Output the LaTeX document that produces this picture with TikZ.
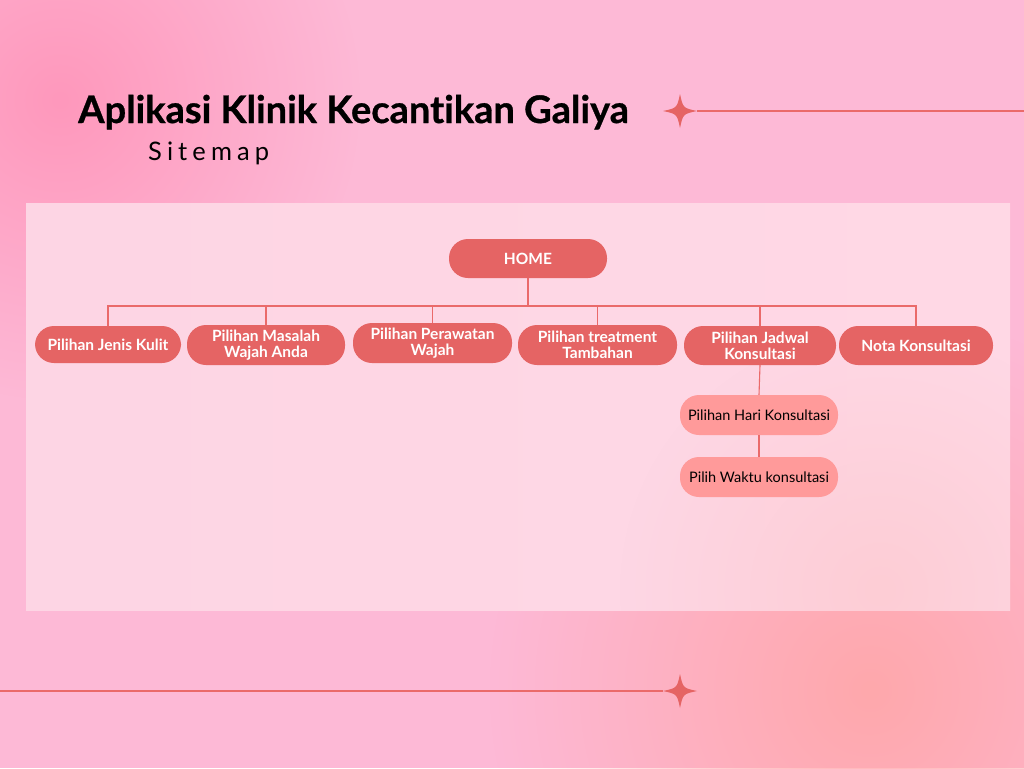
\documentclass[tikz,border=0pt]{standalone}
\usepackage{fontspec}
\setmainfont{Lato}[Ligatures=NoCommon]
\newfontfamily\subfont[LetterSpace=20]{Lato}
\newfontfamily\titlefont[Ligatures=NoCommon, FakeBold=0.8]{Lato Bold}
\usetikzlibrary{calc,fadings}
\tikzfading[name=softglow, inner color=transparent!0, outer color=transparent!100]
\definecolor{bgpink}{HTML}{FDB9D6}
\definecolor{bgdeep}{HTML}{FF98BC}
\definecolor{bgsalmon}{HTML}{FFA8AC}
\definecolor{panel}{HTML}{FDD5E4}
\definecolor{panelb}{HTML}{FFD8E5}
\definecolor{panelr}{HTML}{FDCDD5}
\definecolor{coral}{HTML}{E56464}
\definecolor{light}{HTML}{FF9A9A}
\definecolor{linec}{HTML}{EA6A6A}
\tikzset{
  mainbox/.style={fill=coral, text=white, rounded corners=19pt, align=center,
    font=\fontsize{15.5}{16}\selectfont\bfseries, inner sep=0pt, minimum height=39pt},
  subbox/.style={fill=light, text=black, rounded corners=19pt, align=center,
    font=\fontsize{14.5}{16}\selectfont, inner sep=0pt, minimum width=158pt, minimum height=40pt},
  conn/.style={draw=linec, line width=1.1pt},
  sparkle/.style={fill=coral, draw=none}
}
\begin{document}
\begin{tikzpicture}[x=1pt,y=-1pt]
\useasboundingbox (0,0) rectangle (1024,768);
% background
\fill[bgpink] (0,0) rectangle (1024,768);
\begin{scope}
\clip (0,0) rectangle (1024,768);
\fill[bgdeep, path fading=softglow] (60,100) circle (300);
\fill[bgsalmon, path fading=softglow] (870,690) circle (380);
\end{scope}
% title
\node[anchor=base west, inner sep=0pt, font=\titlefont\fontsize{38}{40}\selectfont] (title) at (78,123) {Aplikasi Klinik Kecantikan Galiya};
\node[anchor=base west, inner sep=0pt, font=\subfont\fontsize{25.5}{28}\selectfont] (sub) at (148,160) {Sitemap};
% sparkles
\coordinate (s1) at (680,111);
\coordinate (s2) at (680,691);
\foreach \s in {s1,s2}{
  \fill[sparkle] ($(\s)+(17,0)$) .. controls ($(\s)+(3,-3)$) .. ($(\s)+(0,-17)$)
     .. controls ($(\s)+(-3,-3)$) .. ($(\s)+(-17,0)$)
     .. controls ($(\s)+(-3,3)$) .. ($(\s)+(0,17)$)
     .. controls ($(\s)+(3,3)$) .. cycle;
}
\coordinate (e1) at (1024,111);
\coordinate (e2) at (0,691);
\draw[conn] ($(s1)+(17,0)$) -- (e1);
\draw[conn] (e2) -- ($(s2)+(-17,0)$);
% panel
\shade[left color=panel, right color=panelb] (26,203) rectangle (1010,610);
\begin{scope}
\clip (26,203) rectangle (1010,610);
\fill[panelr, path fading=softglow] (880,590) circle (260);
\end{scope}
% nodes
\node[mainbox, minimum width=158pt] (home) at (528,258.5) {HOME};
\node[mainbox, minimum width=146pt, minimum height=37pt] (n1) at (108,344.5) {Pilihan Jenis Kulit};
\node[mainbox, minimum width=158pt, minimum height=40pt] (n2) at (266,345) {Pilihan Masalah\\Wajah Anda};
\node[mainbox, minimum width=159pt, minimum height=40pt] (n3) at (432.5,343) {Pilihan Perawatan\\Wajah};
\node[mainbox, minimum width=159pt, minimum height=40pt] (n4) at (597.5,345) {Pilihan treatment\\Tambahan};
\node[mainbox, minimum width=152pt] (n5) at (760,345.5) {Pilihan Jadwal\\Konsultasi};
\node[mainbox, minimum width=154pt] (n6) at (916,345.5) {Nota Konsultasi};
\node[subbox] (c1) at (759,415) {Pilihan Hari Konsultasi};
\node[subbox] (c2) at (759,477) {Pilih Waktu konsultasi};
% connectors
\coordinate (bus) at (528,306);
\draw[conn] (home.south) -- (bus);
\draw[conn] (n1.north) |- (bus);
\draw[conn] (n6.north) |- (bus);
\foreach \n in {n2,n3,n4,n5}{
  \draw[conn] (\n.north) -- (\n.north |- bus);
}
\draw[conn] (n5.south) -- (c1.north);
\draw[conn] (c1.south) -- (c2.north);
\end{tikzpicture}
\end{document}
